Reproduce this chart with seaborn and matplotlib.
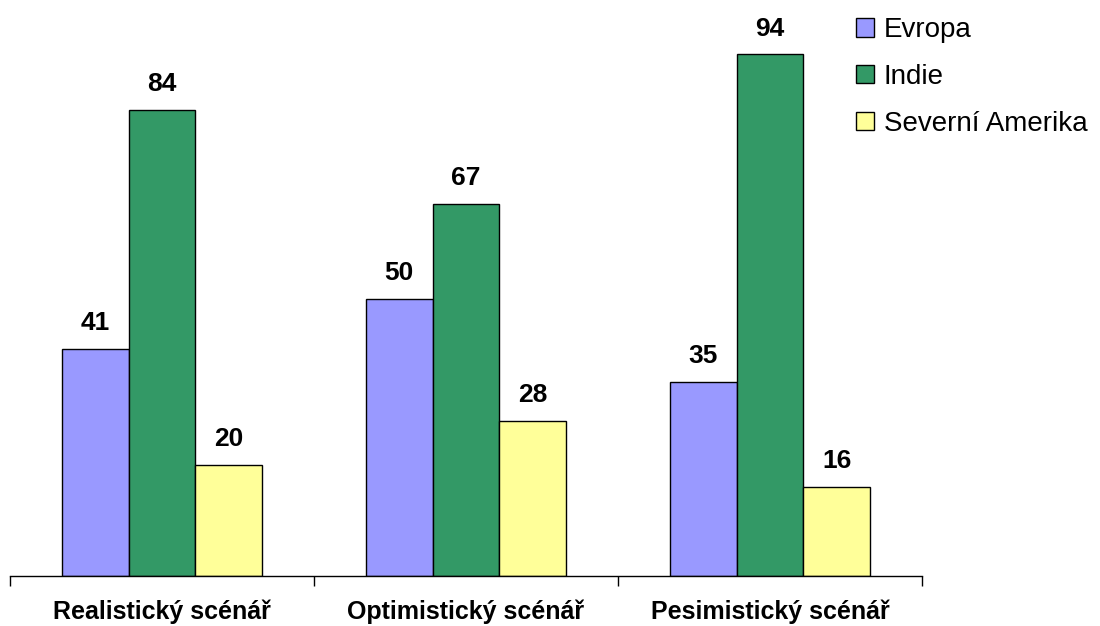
import matplotlib
matplotlib.use("Agg")
import matplotlib.pyplot as plt
import seaborn as sns
import pandas as pd
from matplotlib.patches import Patch

scenarios = ["Realistický scénář", "Optimistický scénář", "Pesimistický scénář"]
regions = ["Evropa", "Indie", "Severní Amerika"]
evropa = [41, 50, 35]
indie = [84, 67, 94]
severni_amerika = [20, 28, 16]
colors = ["#9999FF", "#339966", "#FFFF99"]

df = pd.DataFrame({
    "scenar": scenarios * 3,
    "region": [r for r in regions for _ in scenarios],
    "hodnota": evropa + indie + severni_amerika,
})

sns.set_theme(style="white")
plt.rcParams["font.family"] = ["Liberation Sans", "DejaVu Sans"]
plt.rcParams["text.color"] = "black"
plt.rcParams["xtick.color"] = "black"
plt.rcParams["xtick.labelcolor"] = "black"

fig = plt.figure(figsize=(11, 6.26), dpi=100)
ax = fig.add_axes([10 / 1100, 1 - 576 / 626, 912 / 1100, 554.8 / 626])

sns.barplot(data=df, x="scenar", y="hodnota", hue="region", order=scenarios,
            hue_order=regions, palette=colors, width=0.661, saturation=1,
            edgecolor="black", linewidth=1.0, legend=False, ax=ax)

for cont in ax.containers:
    ax.bar_label(cont, fmt="%d", padding=10, fontsize=19, fontweight="bold",
                 color="black")

ax.set_ylim(0, 100)
ax.set_xlim(-0.5, 2.5)
ax.set_xlabel("")
ax.set_ylabel("")
ax.set_yticks([])
for side in ["top", "right", "left"]:
    ax.spines[side].set_visible(False)
ax.spines["bottom"].set_color("black")
ax.spines["bottom"].set_linewidth(1.0)

ax.set_xticks(range(len(scenarios)))
ax.set_xticklabels(scenarios, fontsize=18, fontweight="bold")
ax.tick_params(axis="x", which="major", length=0, pad=17)
ax.set_xticks([-0.5, 0.5, 1.5, 2.5], minor=True)
ax.tick_params(axis="x", which="minor", length=7, width=1, color="black",
               direction="out", bottom=True)

handles = [Patch(facecolor=c, edgecolor="black", linewidth=1.0) for c in colors]
fig.legend(handles, regions, loc="upper left", bbox_to_anchor=(845 / 1100, 1 - 6 / 626),
           frameon=False, fontsize=20, handlelength=0.65, handleheight=0.65,
           handletextpad=0.35, labelspacing=0.75, borderaxespad=0)

fig.savefig("out.png", dpi=100, facecolor="white")
